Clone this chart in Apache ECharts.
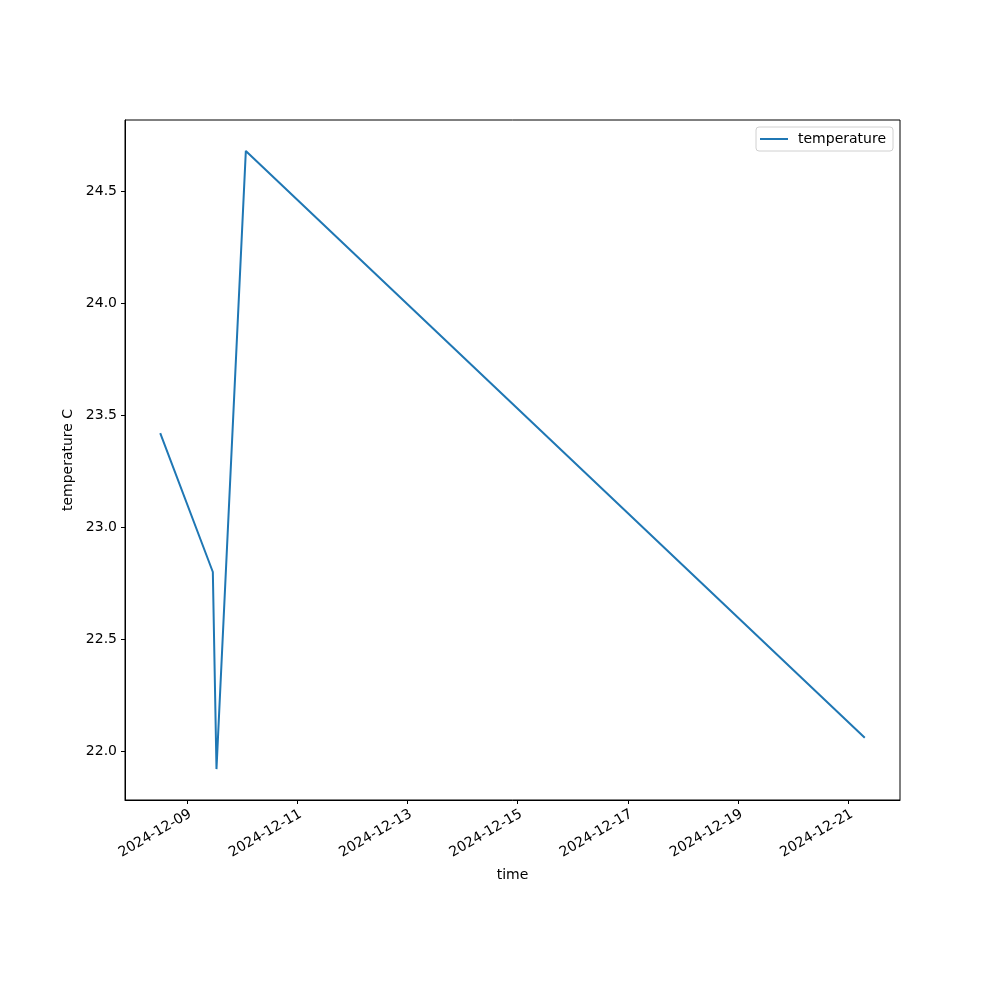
<!DOCTYPE html>
<html>
<head>
<meta charset="utf-8">
<script src="https://cdn.jsdelivr.net/npm/echarts@6/dist/echarts.min.js"></script>
<style>html,body{margin:0;padding:0;background:#fff}#c{width:1000px;height:1000px}</style>
</head>
<body>
<div id="c"></div>
<script>
const times = ['2024-12-08T12:24', '2024-12-09T11:18', '2024-12-09T12:53', '2024-12-10T01:40', '2024-12-21T07:05'];
const temperature = [23.42, 22.80, 21.92, 24.68, 22.06];
const xTickDates = ['2024-12-09', '2024-12-11', '2024-12-13', '2024-12-15', '2024-12-17', '2024-12-19', '2024-12-21'];
const yTicks = [22.0, 22.5, 23.0, 23.5, 24.0, 24.5];

const toMs = s => Date.parse(s + (s.length > 10 ? ':00Z' : 'T00:00:00Z'));
const xs = times.map(toMs);
const xMin0 = Math.min(...xs), xMax0 = Math.max(...xs);
const xPad = (xMax0 - xMin0) * 0.05;
const yMin0 = Math.min(...temperature), yMax0 = Math.max(...temperature);
const yPad = (yMax0 - yMin0) * 0.05;
const xTickMs = xTickDates.map(toMs);
const font = 'DejaVu Sans';

const chart = echarts.init(document.getElementById('c'), null, {renderer: 'canvas'});
chart.setOption({
  animation: false,
  backgroundColor: '#fff',
  textStyle: {fontFamily: font},
  grid: {left: 125, right: 100, top: 120, bottom: 200, show: true, borderColor: '#000', borderWidth: 1, containLabel: false},
  legend: {
    right: 107, top: 127,
    data: [{name: 'temperature', icon: 'path://M0,0 L28,0 L28,2 L0,2 Z'}],
    itemWidth: 28, itemHeight: 2, itemGap: 10,
    borderColor: '#d0d0d0', borderWidth: 1, borderRadius: 3,
    padding: [5, 7, 5, 4],
    backgroundColor: 'rgba(255,255,255,0.8)',
    textStyle: {fontFamily: font, fontSize: 14, color: '#000', padding: [0, 0, 0, 5]}
  },
  xAxis: {
    type: 'value',
    min: xMin0 - xPad, max: xMax0 + xPad,
    name: 'time', nameLocation: 'middle', nameGap: 68,
    nameTextStyle: {fontFamily: font, fontSize: 14, color: '#000'},
    axisLine: {show: true, lineStyle: {color: '#000', width: 1}},
    axisTick: {show: true, length: 4, lineStyle: {color: '#000'}, customValues: xTickMs},
    axisLabel: {
      customValues: xTickMs, rotate: 30, margin: 7, color: '#000', fontSize: 14, fontFamily: font,
      align: 'right', verticalAlign: 'top',
      formatter: v => new Date(v).toISOString().slice(0, 10)
    },
    splitLine: {show: false}
  },
  yAxis: {
    type: 'value',
    min: yMin0 - yPad, max: yMax0 + yPad,
    name: 'temperature C', nameLocation: 'middle', nameGap: 42,
    nameTextStyle: {fontFamily: font, fontSize: 14, color: '#000'},
    axisLine: {show: true, lineStyle: {color: '#000', width: 1}},
    axisTick: {show: true, length: 4, lineStyle: {color: '#000'}, customValues: yTicks},
    axisLabel: {customValues: yTicks, margin: 8, color: '#000', fontSize: 14, fontFamily: font, formatter: v => v.toFixed(1)},
    splitLine: {show: false}
  },
  series: [{
    name: 'temperature', type: 'line',
    data: xs.map((x, i) => [x, temperature[i]]),
    showSymbol: false, symbol: 'none',
    lineStyle: {color: '#1f77b4', width: 2},
    itemStyle: {color: '#1f77b4'}
  }]
});
</script>
</body>
</html>
